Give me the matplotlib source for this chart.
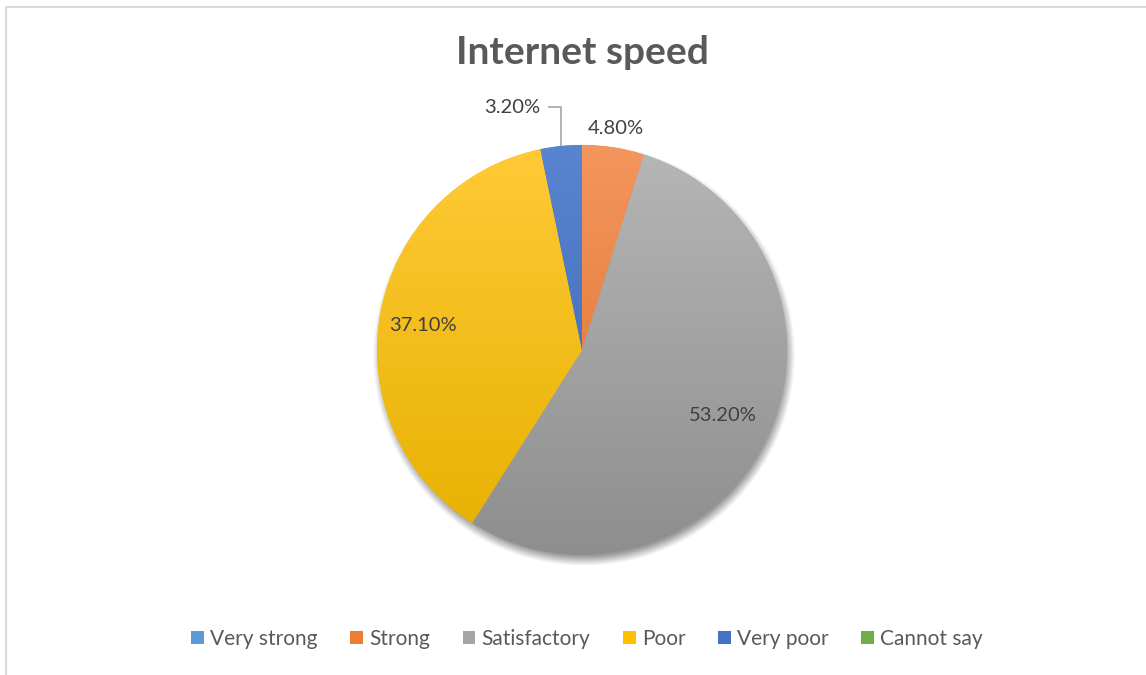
import numpy as np
import matplotlib
matplotlib.use("Agg")
import matplotlib.pyplot as plt
from matplotlib.patches import Patch, Rectangle
from matplotlib.colors import LinearSegmentedColormap

plt.rcParams['font.family'] = ['Lato', 'DejaVu Sans']

# Survey answers on internet speed (percent of respondents)
categories = ["Very strong", "Strong", "Satisfactory", "Poor", "Very poor", "Cannot say"]
shares = [0.0, 4.8, 53.2, 37.1, 3.2, 0.0]
value_labels = ["", "4.80%", "53.20%", "37.10%", "3.20%", ""]

base_colors = ["#5B9BD5", "#ED7D31", "#A5A5A5", "#FFC000", "#4472C4", "#70AD47"]
light_colors = ["#6eaae2", "#f4965e", "#b6b6b6", "#ffca36", "#5884d0", "#82bd5a"]
dark_colors = ["#4c8ac4", "#dc6c26", "#8e8e8e", "#e6b000", "#3a64b2", "#5f9a38"]

W, H, DPI = 1146, 675, 100
fig = plt.figure(figsize=(W / DPI, H / DPI), dpi=DPI)
fig.patch.set_facecolor("white")

# chart-area frame
fig.add_artist(Rectangle((6 / W, -0.1), 1.2, (H - 6) / H + 0.1 - 0.0015,
                         transform=fig.transFigure, fill=False,
                         edgecolor="#d9d9d9", linewidth=1.5))

cx, cy, r = 582, 350, 205
L = 1.15  # half-width of the pie axes in data units
ax = fig.add_axes([(cx - r * L) / W, (H - cy - r * L) / H, 2 * r * L / W, 2 * r * L / H])
ax.set_axis_off()

# soft drop shadow under the pie
n = 600
g = np.linspace(-L, L, n)
X, Y = np.meshgrid(g, g)
d = np.hypot(X - 0.01, Y + 0.024)
shadow = np.clip((1.03 - d) / 0.05, 0, 1) * 0.4
rgba = np.zeros((n, n, 4))
rgba[..., 3] = shadow
ax.imshow(rgba, extent=[-L, L, -L, L], origin="lower", zorder=0,
          interpolation="bilinear")

wedges, _ = ax.pie(shares, colors=base_colors, startangle=90, counterclock=False,
                   radius=1.0, wedgeprops=dict(linewidth=0, zorder=1))

# vertical gradient fill clipped to each slice
grad = np.linspace(1, 0, 256).reshape(-1, 1)
for w, lc, dc in zip(wedges, light_colors, dark_colors):
    cmap = LinearSegmentedColormap.from_list("s", [dc, lc])
    im = ax.imshow(grad, extent=[-1, 1, -1, 1], cmap=cmap, aspect="auto",
                   zorder=2, origin="upper")
    im.set_clip_path(w)

ax.set_xlim(-L, L)
ax.set_ylim(-L, L)

txt_kw = dict(fontsize=14.5, color="#404040", ha="center", va="center", zorder=5)

for w, lab, cat in zip(wedges, value_labels, categories):
    if not lab:
        continue
    mid = np.deg2rad((w.theta1 + w.theta2) / 2)
    if cat == "Strong":
        rr = 1.095
        ax.text(rr * np.cos(mid), rr * np.sin(mid), lab, **txt_kw)
    elif cat == "Satisfactory":
        rr = 0.76
        ax.text(rr * np.cos(mid), rr * np.sin(mid), lab, **txt_kw)
    elif cat == "Poor":
        rr = 0.79
        ax.text(rr * np.cos(mid), rr * np.sin(mid) - 0.02, lab, **txt_kw)
    elif cat == "Very poor":
        ex, ey = np.cos(mid), np.sin(mid)
        ly = 1.185
        lx = -0.34
        ax.text(lx, ly, lab, **txt_kw)
        ax.plot([-0.165, ex, ex], [ly, ly, ey], color="#a6a6a6", lw=1.2,
                zorder=4, clip_on=False, solid_capstyle="butt")

fig.text(cx / W, 1 - 53 / H, "Internet speed", fontsize=28, fontweight="bold",
         color="#595959", ha="center", va="center")

handles = [Patch(facecolor=c, edgecolor="none") for c in base_colors]
fig.legend(handles, categories, loc="center", bbox_to_anchor=(587 / W, 1 - 639 / H),
           ncol=6, frameon=False, fontsize=15, labelcolor="#595959",
           handlelength=0.62, handleheight=0.62, handletextpad=0.3,
           columnspacing=1.55)

fig.savefig("out.png", dpi=DPI, facecolor="white")
